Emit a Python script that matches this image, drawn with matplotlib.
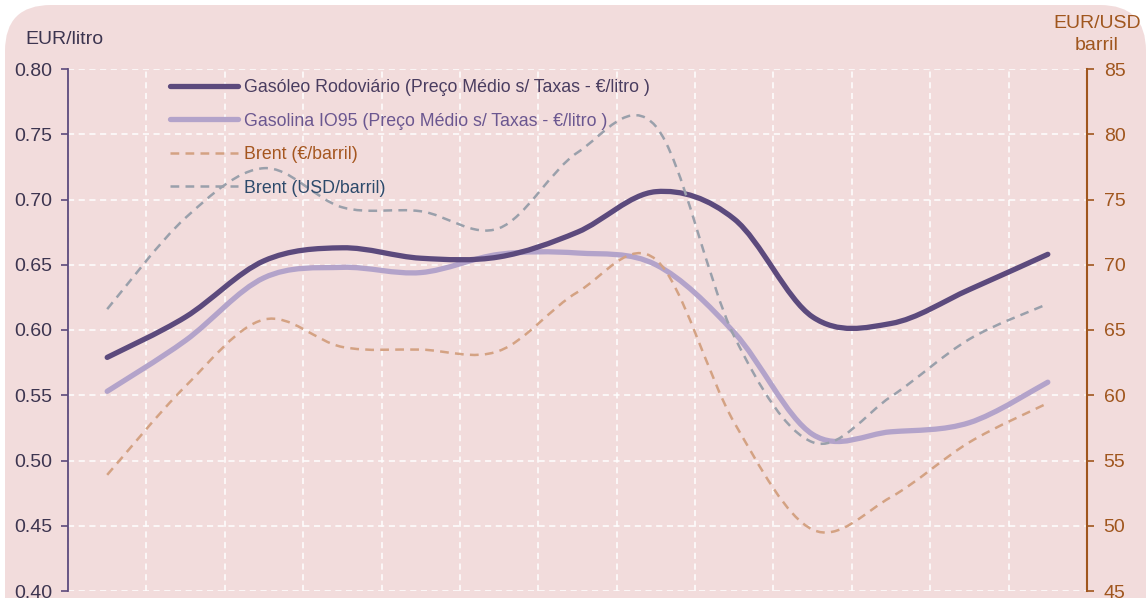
import numpy as np
import matplotlib
matplotlib.use("Agg")
import matplotlib.pyplot as plt
from matplotlib.path import Path
from matplotlib.patches import PathPatch, FancyBboxPatch
from matplotlib.lines import Line2D

# ---------------- data (13 periods) ----------------
periods = list(range(1, 14))
gasoleo = [0.579, 0.610, 0.653, 0.663, 0.655, 0.656, 0.675, 0.706, 0.685, 0.610, 0.605, 0.631, 0.658]
gasolina = [0.553, 0.592, 0.640, 0.648, 0.644, 0.658, 0.659, 0.650, 0.598, 0.520, 0.522, 0.529, 0.560]
brent_eur = [53.9, 60.7, 65.8, 63.7, 63.5, 63.4, 67.9, 70.4, 57.9, 49.7, 52.2, 56.4, 59.4]
brent_usd = [66.6, 73.6, 77.4, 74.4, 74.1, 72.8, 78.6, 80.6, 64.5, 56.4, 59.9, 64.3, 67.0]

labels = ["Gasóleo Rodoviário (Preço Médio s/ Taxas - €/litro )",
          "Gasolina IO95 (Preço Médio s/ Taxas - €/litro )",
          "Brent (€/barril)",
          "Brent (USD/barril)"]
left_ticks = [0.40, 0.45, 0.50, 0.55, 0.60, 0.65, 0.70, 0.75, 0.80]
right_ticks = [45, 50, 55, 60, 65, 70, 75, 80, 85]

# ---------------- style ----------------
BG = "#f2dcdc"
C_GASOLEO = "#5c4a7d"
C_GASOLINA = "#b3a3ca"
C_BEUR = "#d4a283"
C_BUSD = "#9aa0ab"
C_LEFT = "#5c4a7d"
C_RIGHT = "#a0561e"
FONT = "Liberation Sans"

plt.rcParams["font.family"] = [FONT, "DejaVu Sans"]

W, H = 1147, 598
fig = plt.figure(figsize=(W / 100, H / 100), dpi=100)
fig.patch.set_facecolor("white")
bg = FancyBboxPatch((5 / W, -0.1), (W - 6) / W, 1.1 - 5 / H,
                    boxstyle="round,pad=0,rounding_size=0.04",
                    transform=fig.transFigure, facecolor=BG, edgecolor="none",
                    mutation_aspect=W / H, zorder=-10)
fig.patches.append(bg)

x0, x1 = 68 / W, 1087 / W
y_top, y_bot = 69, 591
ax = fig.add_axes([x0, (H - y_bot) / H, x1 - x0, (y_bot - y_top) / H])
ax.set_facecolor("none")
ax2 = ax.twinx()
ax2.set_facecolor("none")


def smooth_path(xs, ys):
    xs = np.asarray(xs, float)
    ys = np.asarray(ys, float)
    pts = np.column_stack([xs, ys])
    n = len(pts)
    verts = [pts[0]]
    codes = [Path.MOVETO]
    for i in range(n - 1):
        p0 = pts[i - 1] if i > 0 else pts[i]
        p1 = pts[i]
        p2 = pts[i + 1]
        p3 = pts[i + 2] if i + 2 < n else pts[i + 1]
        c1 = p1 + (p2 - p0) / 6.0
        c2 = p2 - (p3 - p1) / 6.0
        verts += [c1, c2, p2]
        codes += [Path.CURVE4] * 3
    return Path(verts, codes)


xpos = np.arange(len(periods)) + 0.5

# left axis series
ax.add_patch(PathPatch(smooth_path(xpos, gasolina), fill=False, edgecolor=C_GASOLINA,
                       linewidth=3.8, capstyle="round", joinstyle="round", zorder=3))
ax.add_patch(PathPatch(smooth_path(xpos, gasoleo), fill=False, edgecolor=C_GASOLEO,
                       linewidth=3.8, capstyle="round", joinstyle="round", zorder=3))
# right axis series
ax2.add_patch(PathPatch(smooth_path(xpos, brent_eur), fill=False, edgecolor=C_BEUR,
                        linewidth=1.8, linestyle=(0, (3.5, 2.5)), zorder=3))
ax2.add_patch(PathPatch(smooth_path(xpos, brent_usd), fill=False, edgecolor=C_BUSD,
                        linewidth=1.8, linestyle=(0, (3.5, 2.5)), zorder=3))

ax.set_xlim(0, len(periods))
ax.set_ylim(0.40, 0.80)
ax2.set_ylim(45, 85)

# grid
ax.set_xticks(np.arange(0, len(periods) + 1))
ax.set_yticks(left_ticks)
ax.set_yticklabels([f"{v:.2f}" for v in left_ticks])
ax.grid(True, color="white", linestyle=(0, (4, 3)), linewidth=1.1)
ax.set_axisbelow(True)
ax.tick_params(axis="x", length=0, labelbottom=False)
ax.tick_params(axis="y", direction="out", length=5, width=1.2, color=C_LEFT,
               labelcolor="#3d3550", labelsize=14, pad=6)
ax2.set_yticks(right_ticks)
ax2.set_yticklabels([str(v) for v in right_ticks])
ax2.tick_params(axis="y", direction="out", length=5, width=1.2, color=C_RIGHT,
                labelcolor=C_RIGHT, labelsize=14, pad=7)

for a in (ax, ax2):
    for s in ("top", "bottom"):
        a.spines[s].set_visible(False)
ax.spines["right"].set_visible(False)
ax2.spines["left"].set_visible(False)
ax.spines["left"].set_color(C_LEFT)
ax.spines["left"].set_linewidth(1.3)
ax2.spines["right"].set_color(C_RIGHT)
ax2.spines["right"].set_linewidth(1.5)

# axis titles
fig.text(25 / W, 1 - 40 / H, "EUR/litro", color="#3d3550", fontsize=14,
         ha="left", va="center")
fig.text(1097 / W, 1 - 24 / H, "EUR/USD", color=C_RIGHT, fontsize=14,
         ha="center", va="center")
fig.text(1097 / W, 1 - 46 / H, "barril", color=C_RIGHT, fontsize=14,
         ha="center", va="center")

# legend
handles = [
    Line2D([], [], color=C_GASOLEO, linewidth=3.8, solid_capstyle="round"),
    Line2D([], [], color=C_GASOLINA, linewidth=3.8, solid_capstyle="round"),
    Line2D([], [], color=C_BEUR, linewidth=1.8, linestyle=(0, (3.5, 2.5))),
    Line2D([], [], color=C_BUSD, linewidth=1.8, linestyle=(0, (3.5, 2.5))),
]
leg = ax2.legend(handles, labels, loc="upper left",
                 bbox_to_anchor=(170 / W, 1 - 79 / H), bbox_transform=fig.transFigure,
                 frameon=False, fontsize=12.8, handlelength=3.8, handletextpad=0.34,
                 labelspacing=0.93, borderaxespad=0, borderpad=0)
for t, c in zip(leg.get_texts(), ["#4a3d60", "#6b5790", "#a5561f", "#2d4a6b"]):
    t.set_color(c)
leg.set_zorder(10)

fig.savefig("out.png", dpi=100, facecolor=fig.get_facecolor())
